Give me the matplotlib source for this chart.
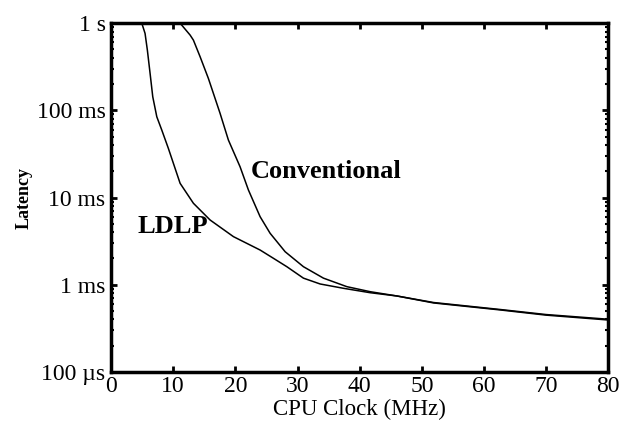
import numpy as np
import matplotlib.pyplot as plt
from matplotlib.ticker import LogLocator, NullFormatter

################################## DATA ##################################

# CPU clock (MHz) and latency (s)
ldlp_mhz = [4.94, 5.47, 5.84, 6.28, 6.71, 7.36, 8.16, 9.22, 11.11, 13.25, 15.94,
            19.69, 23.98, 26.12, 28.28, 30.95, 33.64, 37.39, 41.69, 45.99, 51.9, 62.6,
            70.0, 80.0]
ldlp_lat = [1.0, 0.762, 0.491, 0.265, 0.143, 0.0843, 0.0594, 0.0366, 0.01455,
            0.00859, 0.00552, 0.00356, 0.0025, 0.00201, 0.00161, 0.00119, 0.00102,
            0.00091, 0.00081, 0.000743, 0.000618, 0.000514, 0.000448, 0.000394]

conv_mhz = [11.1, 12.72, 13.25, 14.33, 15.66, 16.47, 17.54, 18.88, 20.76, 22.10, 23.98,
            25.59, 28.01, 30.95, 34.17, 37.94, 41.69, 45.99, 51.9, 62.6, 70.0, 80.0]
conv_lat = [1.0, 0.729, 0.638, 0.411, 0.232, 0.156, 0.0923, 0.0456, 0.0225, 0.0122,
            0.00603, 0.00389, 0.00239, 0.00161, 0.00119, 0.00095, 0.000832, 0.000743,
            0.000625, 0.00052, 0.000455, 0.000402]

xticks = [0, 10, 20, 30, 40, 50, 60, 70, 80]
yticks = [1e-4, 1e-3, 1e-2, 1e-1, 1]
yticklabels = ['100 \u00b5s', '1 ms', '10 ms', '100 ms', '1 s']

################################## PLOT ##################################

plt.rcParams['font.family'] = ['Liberation Serif', 'DejaVu Serif']

fig = plt.figure(figsize=(6.31, 4.28), dpi=100)
ax = fig.add_axes([0.176, 0.131, 0.788, 0.815])

ax.plot(ldlp_mhz, ldlp_lat, color='black', lw=1.1)
ax.plot(conv_mhz, conv_lat, color='black', lw=1.1)

ax.set_yscale('log')
ax.set_xlim(0, 80)
ax.set_ylim(1e-4, 1)

ax.set_xticks(xticks)
ax.set_yticks(yticks)
ax.set_yticklabels(yticklabels)
ax.yaxis.set_minor_locator(LogLocator(base=10, subs=np.arange(2, 10)))
ax.yaxis.set_minor_formatter(NullFormatter())

ax.tick_params(which='both', direction='in', top=True, right=True,
               labelsize=17)
ax.tick_params(axis='x', pad=3)
ax.tick_params(axis='y', pad=4)
ax.tick_params(which='major', length=4, width=2)
ax.tick_params(which='minor', length=2, width=1.5)

for s in ax.spines.values():
    s.set_linewidth(2.5)

ax.set_xlabel('CPU Clock (MHz)', fontsize=16.5, labelpad=1)
ax.set_ylabel('Latency', fontsize=13, fontweight='bold', labelpad=3)

ax.text(22.5, 0.0167, 'Conventional', fontsize=19, fontweight='bold', va='baseline')
ax.text(4.19, 0.00392, 'LDLP', fontsize=19, fontweight='bold', va='baseline')

fig.savefig('out.png', dpi=100)
